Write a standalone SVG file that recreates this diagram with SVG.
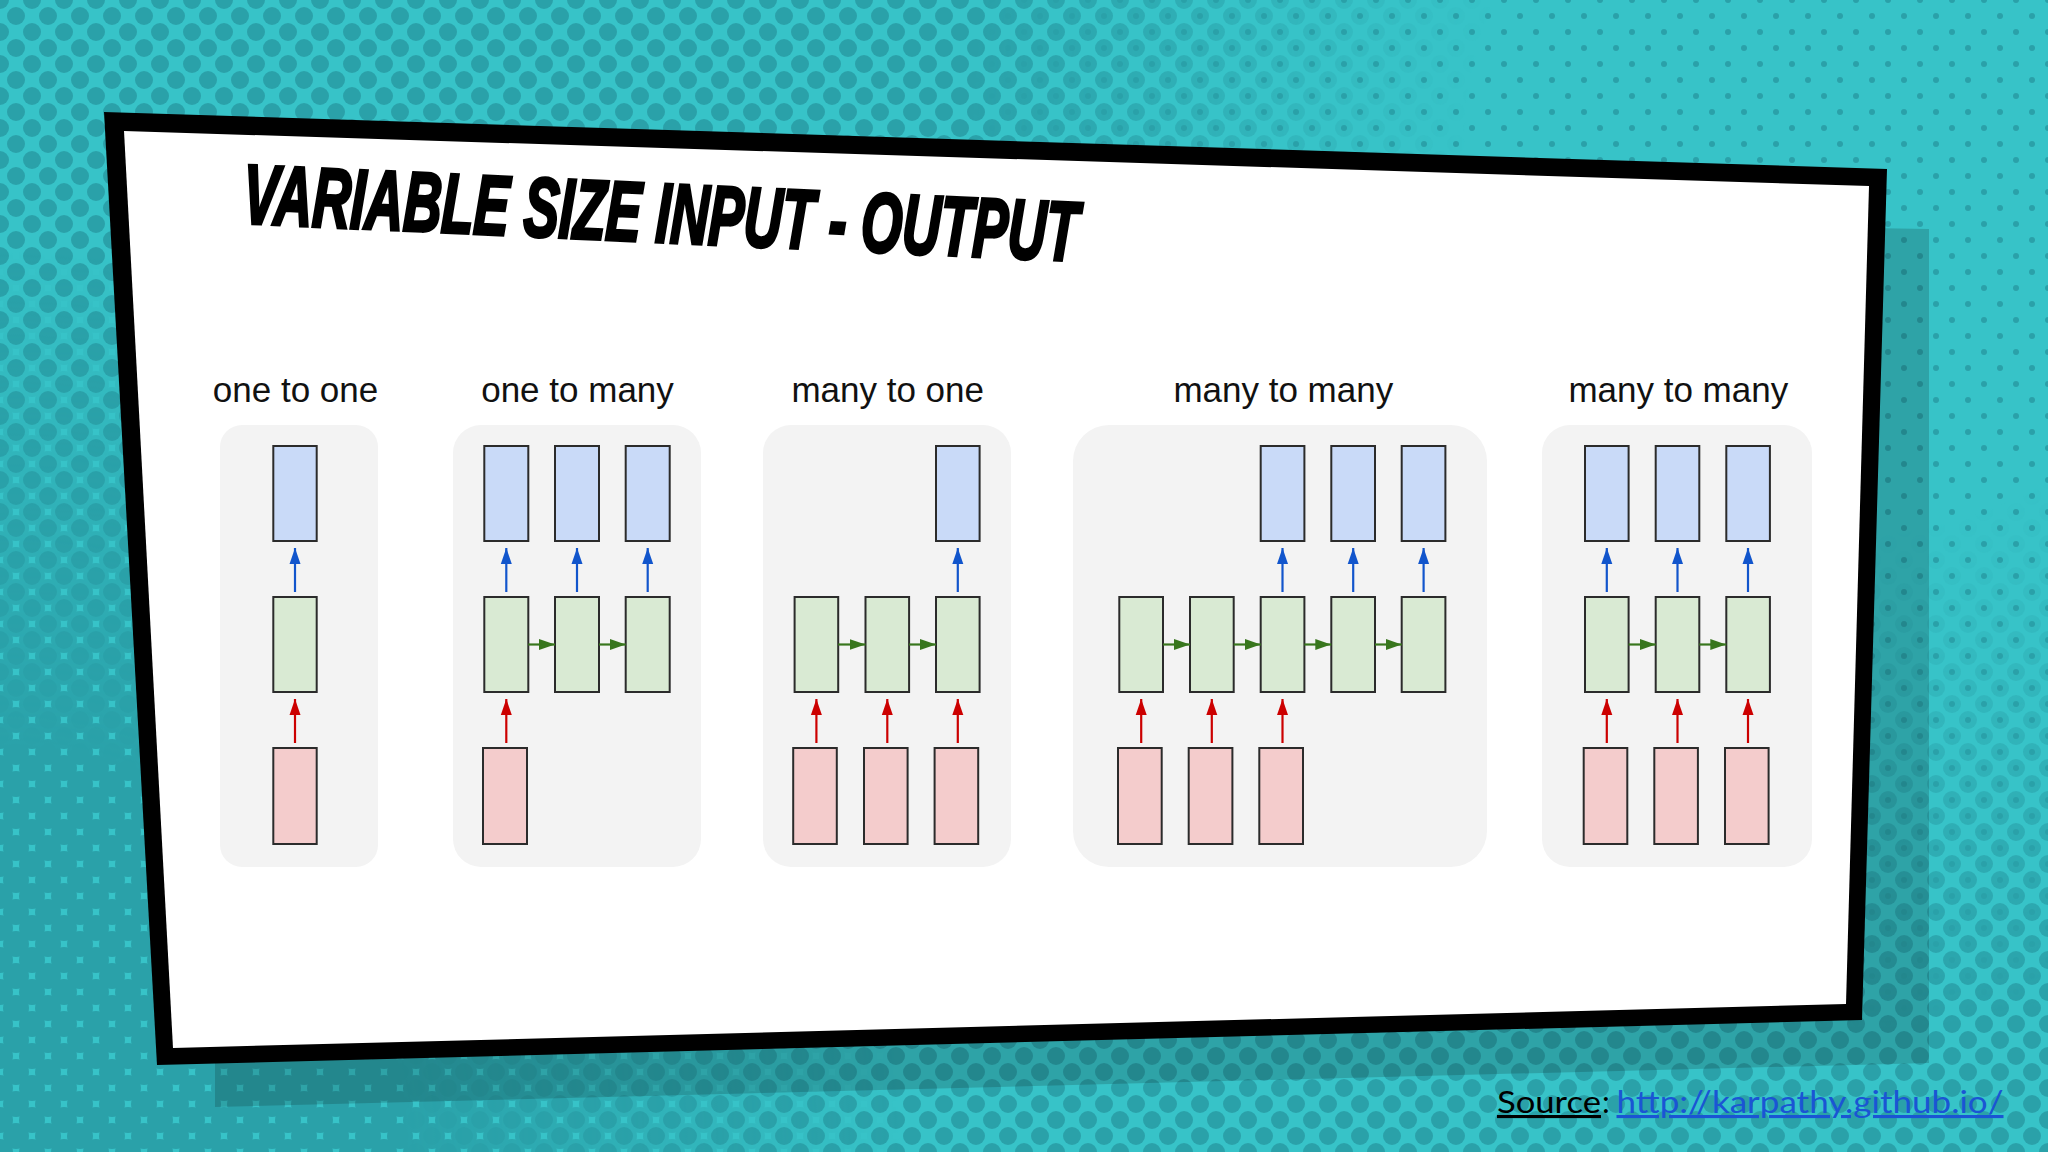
<svg xmlns="http://www.w3.org/2000/svg" width="2048" height="1152" viewBox="0 0 2048 1152">
  <style>
    .lbl { font-family: "Liberation Sans", Arial, sans-serif; font-size: 35px; fill: #111; text-anchor: middle; }
    .panel { fill: #f3f3f3; }
    .out { fill: #c9daf8; stroke: #2b2b2b; stroke-width: 2; }
    .hid { fill: #d9ead3; stroke: #2b2b2b; stroke-width: 2; }
    .inp { fill: #f4cccc; stroke: #2b2b2b; stroke-width: 2; }
    .ab { stroke: #1155cc; stroke-width: 2.2; marker-end: url(#mb); }
    .ar { stroke: #cc0000; stroke-width: 2.2; marker-end: url(#mr); }
    .ag { stroke: #38761d; stroke-width: 2.2; marker-end: url(#mg); }
    .src { font-family: "Lato", "Open Sans", sans-serif; font-size: 31px; }
  </style>
  <defs>
    <pattern id="dotS" width="32" height="32" patternUnits="userSpaceOnUse">
      <g fill="#2aa1a9"><circle cx="0" cy="0" r="3"/><circle cx="32" cy="0" r="3"/><circle cx="0" cy="32" r="3"/><circle cx="32" cy="32" r="3"/><circle cx="16" cy="16" r="3"/></g>
    </pattern>
    <pattern id="dotM" width="32" height="32" patternUnits="userSpaceOnUse">
      <g fill="#2aa1a9"><circle cx="0" cy="0" r="9"/><circle cx="32" cy="0" r="9"/><circle cx="0" cy="32" r="9"/><circle cx="32" cy="32" r="9"/><circle cx="16" cy="16" r="9"/></g>
    </pattern>
    <pattern id="dotL" width="32" height="32" patternUnits="userSpaceOnUse">
      <g fill="#2aa1a9"><circle cx="0" cy="0" r="13"/><circle cx="32" cy="0" r="13"/><circle cx="0" cy="32" r="13"/><circle cx="32" cy="32" r="13"/><circle cx="16" cy="16" r="13"/></g>
    </pattern>
    <radialGradient id="gTR" gradientUnits="userSpaceOnUse" cx="1850" cy="150" r="1100">
      <stop offset="0" stop-color="#000"/>
      <stop offset="0.35" stop-color="#000"/>
      <stop offset="0.8" stop-color="#fff"/>
    </radialGradient>
    <radialGradient id="gBL" gradientUnits="userSpaceOnUse" cx="0" cy="1152" r="900">
      <stop offset="0" stop-color="#fff"/>
      <stop offset="0.45" stop-color="#fff"/>
      <stop offset="1" stop-color="#000"/>
    </radialGradient>
    <mask id="mTR"><rect width="2048" height="1152" fill="url(#gTR)"/></mask>
    <mask id="mBL"><rect width="2048" height="1152" fill="url(#gBL)"/></mask>
    <marker id="mb" markerUnits="userSpaceOnUse" markerWidth="16" markerHeight="12" refX="16" refY="6" orient="auto"><path d="M0,0.5 L16,6 L0,11.5 z" fill="#1155cc"/></marker>
    <marker id="mr" markerUnits="userSpaceOnUse" markerWidth="16" markerHeight="12" refX="16" refY="6" orient="auto"><path d="M0,0.5 L16,6 L0,11.5 z" fill="#cc0000"/></marker>
    <marker id="mg" markerUnits="userSpaceOnUse" markerWidth="16" markerHeight="12" refX="16" refY="6" orient="auto"><path d="M0,0.5 L16,6 L0,11.5 z" fill="#38761d"/></marker>
  </defs>

  <g id="background">
    <rect width="2048" height="1152" fill="#37c3c8"/>
    <rect width="2048" height="1152" fill="url(#dotS)"/>
    <rect width="2048" height="1152" fill="url(#dotM)" mask="url(#mTR)"/>
    <rect width="2048" height="1152" fill="url(#dotL)" mask="url(#mBL)"/>
    <polygon points="215,200 1929,229 1929,1063 215,1107" fill="#000" opacity="0.16"/>
  </g>

  <g id="frame">
    <polygon points="104,112 1887,169 1862,1020 157,1065" fill="#000"/>
    <polygon points="124,131 1869,186 1846,1004 173,1048" fill="#fff"/>
  </g>

  <g id="title">
    <text x="242" y="223" transform="rotate(2.6 242 223)" textLength="836" lengthAdjust="spacingAndGlyphs" font-family="Liberation Sans, Arial, sans-serif" font-weight="bold" font-style="italic" font-size="84" fill="#000" stroke="#000" stroke-width="3.5">VARIABLE SIZE INPUT - OUTPUT</text>
  </g>

  <g id="labels">
    <text class="lbl" x="295.5" y="402">one to one</text>
    <text class="lbl" x="577.5" y="402">one to many</text>
    <text class="lbl" x="887.7" y="402">many to one</text>
    <text class="lbl" x="1283.3" y="402">many to many</text>
    <text class="lbl" x="1678.3" y="402">many to many</text>
  </g>

  <g id="panel-one-to-one">
    <rect class="panel" x="220" y="425" width="158" height="442" rx="22"/>
    <rect class="out" x="273.3" y="446" width="43.4" height="95"/>
    <rect class="hid" x="273.3" y="597" width="43.4" height="95"/>
    <rect class="inp" x="273.3" y="748" width="43.4" height="96"/>
  </g>

  <g id="panel-one-to-many">
    <rect class="panel" x="453" y="425" width="248" height="442" rx="28"/>
    <rect class="out" x="484.3" y="446" width="44" height="95"/>
    <rect class="out" x="555" y="446" width="44" height="95"/>
    <rect class="out" x="625.7" y="446" width="44" height="95"/>
    <rect class="hid" x="484.3" y="597" width="44" height="95"/>
    <rect class="hid" x="555" y="597" width="44" height="95"/>
    <rect class="hid" x="625.7" y="597" width="44" height="95"/>
    <rect class="inp" x="483" y="748" width="44" height="96"/>
  </g>

  <g id="panel-many-to-one">
    <rect class="panel" x="763" y="425" width="248" height="442" rx="28"/>
    <rect class="out" x="936" y="446" width="43.6" height="95"/>
    <rect class="hid" x="794.6" y="597" width="43.6" height="95"/>
    <rect class="hid" x="865.5" y="597" width="43.6" height="95"/>
    <rect class="hid" x="936" y="597" width="43.6" height="95"/>
    <rect class="inp" x="793.2" y="748" width="43.6" height="96"/>
    <rect class="inp" x="864" y="748" width="43.6" height="96"/>
    <rect class="inp" x="934.6" y="748" width="43.6" height="96"/>
  </g>

  <g id="panel-many-to-many-1">
    <rect class="panel" x="1073" y="425" width="414" height="442" rx="36"/>
    <rect class="out" x="1260.7" y="446" width="43.7" height="95"/>
    <rect class="out" x="1331.3" y="446" width="43.7" height="95"/>
    <rect class="out" x="1401.7" y="446" width="43.7" height="95"/>
    <rect class="hid" x="1119.3" y="597" width="43.7" height="95"/>
    <rect class="hid" x="1190" y="597" width="43.7" height="95"/>
    <rect class="hid" x="1260.7" y="597" width="43.7" height="95"/>
    <rect class="hid" x="1331.3" y="597" width="43.7" height="95"/>
    <rect class="hid" x="1401.7" y="597" width="43.7" height="95"/>
    <rect class="inp" x="1118" y="748" width="43.7" height="96"/>
    <rect class="inp" x="1188.7" y="748" width="43.7" height="96"/>
    <rect class="inp" x="1259.3" y="748" width="43.7" height="96"/>
  </g>

  <g id="panel-many-to-many-2">
    <rect class="panel" x="1542" y="425" width="270" height="442" rx="28"/>
    <rect class="out" x="1585" y="446" width="43.6" height="95"/>
    <rect class="out" x="1655.7" y="446" width="43.6" height="95"/>
    <rect class="out" x="1726.3" y="446" width="43.6" height="95"/>
    <rect class="hid" x="1585" y="597" width="43.6" height="95"/>
    <rect class="hid" x="1655.7" y="597" width="43.6" height="95"/>
    <rect class="hid" x="1726.3" y="597" width="43.6" height="95"/>
    <rect class="inp" x="1583.7" y="748" width="43.6" height="96"/>
    <rect class="inp" x="1654.3" y="748" width="43.6" height="96"/>
    <rect class="inp" x="1725" y="748" width="43.6" height="96"/>
  </g>

  <g id="connectors">
    <!-- one to one -->
    <line class="ab" x1="295" y1="592" x2="295" y2="548"/>
    <line class="ar" x1="295" y1="743" x2="295" y2="699"/>
    <!-- one to many -->
    <line class="ab" x1="506.3" y1="592" x2="506.3" y2="548"/>
    <line class="ab" x1="577" y1="592" x2="577" y2="548"/>
    <line class="ab" x1="647.7" y1="592" x2="647.7" y2="548"/>
    <line class="ar" x1="506.3" y1="743" x2="506.3" y2="699"/>
    <line class="ag" x1="528.3" y1="644.5" x2="555" y2="644.5"/>
    <line class="ag" x1="599" y1="644.5" x2="625.7" y2="644.5"/>
    <!-- many to one -->
    <line class="ab" x1="957.8" y1="592" x2="957.8" y2="548"/>
    <line class="ar" x1="816.4" y1="743" x2="816.4" y2="699"/>
    <line class="ar" x1="887.3" y1="743" x2="887.3" y2="699"/>
    <line class="ar" x1="957.8" y1="743" x2="957.8" y2="699"/>
    <line class="ag" x1="838.2" y1="644.5" x2="865.5" y2="644.5"/>
    <line class="ag" x1="909.1" y1="644.5" x2="936" y2="644.5"/>
    <!-- many to many 1 -->
    <line class="ab" x1="1282.5" y1="592" x2="1282.5" y2="548"/>
    <line class="ab" x1="1353.2" y1="592" x2="1353.2" y2="548"/>
    <line class="ab" x1="1423.6" y1="592" x2="1423.6" y2="548"/>
    <line class="ar" x1="1141.2" y1="743" x2="1141.2" y2="699"/>
    <line class="ar" x1="1211.8" y1="743" x2="1211.8" y2="699"/>
    <line class="ar" x1="1282.5" y1="743" x2="1282.5" y2="699"/>
    <line class="ag" x1="1163" y1="644.5" x2="1190" y2="644.5"/>
    <line class="ag" x1="1233.7" y1="644.5" x2="1260.7" y2="644.5"/>
    <line class="ag" x1="1304.4" y1="644.5" x2="1331.3" y2="644.5"/>
    <line class="ag" x1="1375" y1="644.5" x2="1401.7" y2="644.5"/>
    <!-- many to many 2 -->
    <line class="ab" x1="1606.8" y1="592" x2="1606.8" y2="548"/>
    <line class="ab" x1="1677.5" y1="592" x2="1677.5" y2="548"/>
    <line class="ab" x1="1748" y1="592" x2="1748" y2="548"/>
    <line class="ar" x1="1606.8" y1="743" x2="1606.8" y2="699"/>
    <line class="ar" x1="1677.5" y1="743" x2="1677.5" y2="699"/>
    <line class="ar" x1="1748" y1="743" x2="1748" y2="699"/>
    <line class="ag" x1="1628.6" y1="644.5" x2="1655.7" y2="644.5"/>
    <line class="ag" x1="1699.3" y1="644.5" x2="1726.3" y2="644.5"/>
  </g>

  <g id="source">
    <text class="src" x="1497" y="1113" textLength="104" lengthAdjust="spacingAndGlyphs" fill="#000" text-decoration="underline">Source</text>
    <text class="src" x="1602" y="1113" fill="#000">:</text>
    <text class="src" x="1616.5" y="1113" textLength="387" lengthAdjust="spacingAndGlyphs" fill="#1a55d4" text-decoration="underline">http://karpathy.github.io/</text>
  </g>
</svg>
